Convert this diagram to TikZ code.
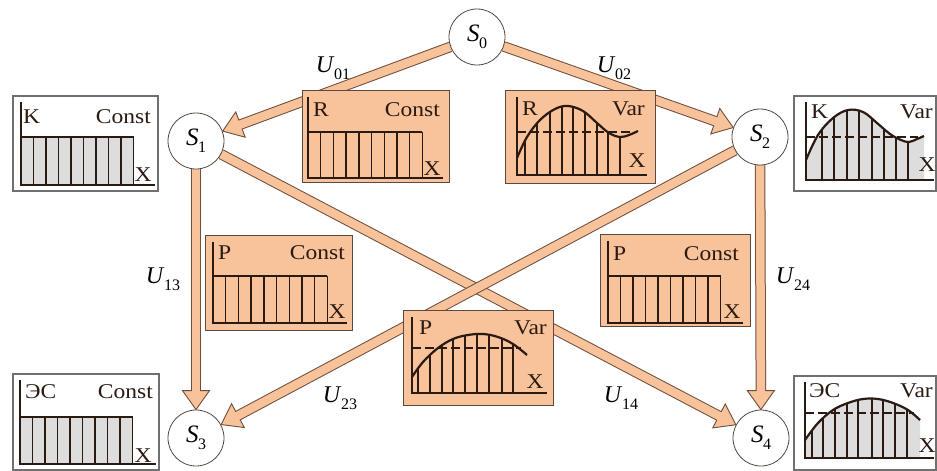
\documentclass[tikz,border=0pt]{standalone}
\usepackage{fontspec}
\setmainfont{Liberation Serif}
\newfontfamily\boxfont{Liberation Serif}[FakeStretch=1.12]
\usetikzlibrary{decorations.markings}
\definecolor{orng}{HTML}{F8C29A}
\definecolor{edgec}{HTML}{6E4E3C}
\definecolor{ink}{HTML}{2B1A12}
\definecolor{boxline}{HTML}{5A4A40}
\definecolor{barg}{HTML}{DDDDDD}
\definecolor{wline}{HTML}{707070}
\pgfdeclarelayer{bg}
\pgfsetlayers{bg,main}
\newcommand\sub[2]{\textit{#1}\kern-0.5pt\raisebox{-0.28em}{\fontsize{16}{16}\selectfont #2}}
\tikzset{
 x=1pt, y=-1pt,
 state/.style={circle, draw=ink!80, line width=0.8pt, fill=white, minimum size=56pt, inner sep=0pt, font=\fontsize{25}{27}\selectfont},
 obox/.style={draw=boxline, line width=0.9pt, fill=orng, anchor=north west, inner sep=0pt},
 wbox/.style={draw=wline, line width=1.6pt, fill=white, anchor=north west, inner sep=0pt},
 lbl/.style={font=\boxfont\fontsize{21}{23}\selectfont, inner sep=0pt, text=ink},
 ulbl/.style={font=\fontsize{24}{26}\selectfont, inner sep=0pt},
 axisl/.style={line width=2.6pt, draw=ink},
 bar/.style={line width=1.4pt, draw=ink},
 dsh/.style={line width=1.2pt, draw=ink, dash pattern=on 9pt off 4pt},
 crv/.style={line width=2.2pt, draw=ink},
}
\newcommand\fatarrow[2]{%
 \draw[line width=10.5pt, edgec, shorten >=16pt] (#1) -- (#2);
 \path[postaction={decorate}, decoration={markings, mark=at position 1 with {\filldraw[fill=orng, draw=edgec, line width=0.9pt] (0pt,0pt) -- (-19pt,13.5pt) -- (-19pt,-13.5pt) -- cycle;}}] (#1) -- (#2);
 \draw[line width=8.5pt, orng, shorten >=16pt] (#1) -- (#2);
}
% #1 ax, #2 axis y, #3 bar top, #4 fill, #5 spacing, #6 axis right
\newcommand\constchart[6]{%
 \fill[#4] (#1,#3) rectangle (#1+9*#5,#2);
 \foreach \k in {1,...,9} \draw[bar] (#1+\k*#5,#3) -- (#1+\k*#5,#2);
 \draw[line width=2pt, ink] (#1,#3) -- (#1+9*#5,#3);
 \draw[axisl] (#1,7) -- (#1,#2) -- (#6,#2);
}
% #1 ax, #2 axis y, #3 curve, #4 end x, #5 fill, #6 xs, #7 dash y, #8 axis right
\newcommand\varchart[8]{%
 \fill[#5] plot[smooth,tension=0.6] coordinates {#3} -- (#4,#2) -- (#1,#2) -- cycle;
 \begin{scope}
 \clip plot[smooth,tension=0.6] coordinates {#3} -- (#4,#2) -- (#1,#2) -- cycle;
 \foreach \xx in {#6} \draw[bar] (\xx,0) -- (\xx,#2);
 \end{scope}
 \draw[dsh] (#1,#7) -- (#4-6,#7);
 \draw[crv] plot[smooth,tension=0.6] coordinates {#3};
 \draw[axisl] (#1,7) -- (#1,#2) -- (#8,#2);
}
\begin{document}
\begin{tikzpicture}
\useasboundingbox (0,0) rectangle (937,471);

% states
\node[state] (S0) at (477,37) {\sub{S}{0}};
\node[state] (S1) at (196,141) {\sub{S}{1}};
\node[state] (S2) at (760,137) {\sub{S}{2}};
\node[state] (S3) at (196,438) {\sub{S}{3}};
\node[state] (S4) at (761,438) {\sub{S}{4}};

% arrows
\begin{pgfonlayer}{bg}
\fill[white] (0,0) rectangle (937,471);
\fatarrow{S0}{S1}
\fatarrow{S0}{S2}
\fatarrow{S1}{S3}
\fatarrow{S2}{S4}
\fatarrow{S1}{S4}
\fatarrow{S2}{S3}
\end{pgfonlayer}

% labels
\node[ulbl] (u01) at (333,68) {\sub{U}{01}};
\node[ulbl] (u02) at (614,68) {\sub{U}{02}};
\node[ulbl] (u13) at (163,279) {\sub{U}{13}};
\node[ulbl] (u24) at (793,279) {\sub{U}{24}};
\node[ulbl] (u23) at (340,398) {\sub{U}{23}};
\node[ulbl] (u14) at (621,398) {\sub{U}{14}};

% 1 K Const
\node[wbox, minimum width=145pt, minimum height=95pt] (kc) at (12,95) {};
\begin{scope}[shift={(kc.north west)}]
\constchart{9}{90}{42}{barg}{12.5}{143}
\node[lbl, anchor=base west] (kc-l) at (11,28) {K};
\node[lbl, anchor=base east] (kc-r) at (139,28) {Const};
\node[lbl, anchor=base] (kc-x) at (131,86) {X};
\end{scope}

% 2 R Const
\node[obox, minimum width=147pt, minimum height=92pt] (rc) at (302,90) {};
\begin{scope}[shift={(rc.north west)}]
\constchart{6}{88}{42}{orng}{12.7}{141}
\node[lbl, anchor=base west] (rc-l) at (11,26) {R};
\node[lbl, anchor=base east] (rc-r) at (138,26) {Const};
\node[lbl, anchor=base] (rc-x) at (130,85) {X};
\end{scope}

% 3 R Var
\node[obox, minimum width=150pt, minimum height=93pt] (rv) at (505,90) {};
\begin{scope}[shift={(rv.north west)}]
\varchart{12}{85}{(12,68) (22,47) (35,30) (50,19) (63,16) (78,21) (92,33) (104,43) (115,47) (124,45) (133,41)}{133}{orng}{20,32,45,57,68,80,92,103,115}{42}{142}
\node[lbl, anchor=base west] (rv-l) at (17,25) {R};
\node[lbl, anchor=base east] (rv-r) at (140,25) {Var};
\node[lbl, anchor=base] (rv-x) at (132,77) {X};
\end{scope}

% 4 K Var
\node[wbox, minimum width=142pt, minimum height=95pt] (kv) at (793,95) {};
\begin{scope}[shift={(kv.north west)}]
\varchart{13}{85}{(13,65) (25,40) (40,23) (55,15) (70,17) (84,28) (97,39) (108,45) (116,47) (124,44) (131,41)}{131}{barg}{29,41,54,66,79,91,103,115}{42}{141}
\node[lbl, anchor=base west] (kv-l) at (18,23) {K};
\node[lbl, anchor=base east] (kv-r) at (140,23) {Var};
\node[lbl, anchor=base] (kv-x) at (134,76) {X};
\end{scope}

% 5 P Const left
\node[obox, minimum width=147pt, minimum height=95pt] (pcl) at (205,235) {};
\begin{scope}[shift={(pcl.north west)}]
\constchart{8}{88}{41}{orng}{12.7}{142}
\node[lbl, anchor=base west] (pcl-l) at (13,24) {P};
\node[lbl, anchor=base east] (pcl-r) at (140,24) {Const};
\node[lbl, anchor=base] (pcl-x) at (132,83) {X};
\end{scope}

% 6 P Var
\node[obox, minimum width=150pt, minimum height=95pt] (pv) at (403,310) {};
\begin{scope}[shift={(pv.north west)}]
\varchart{9}{83}{(9,67) (20,52) (35,38) (50,29) (65,25) (80,24) (95,27) (110,34) (124,45)}{124}{orng}{15,27,39,50,62,74,86,99,110}{38}{144}
\node[lbl, anchor=base west] (pv-l) at (16,24) {P};
\node[lbl, anchor=base east] (pv-r) at (144,24) {Var};
\node[lbl, anchor=base] (pv-x) at (132,78) {X};
\end{scope}

% 7 P Const right
\node[obox, minimum width=150pt, minimum height=92pt] (pcr) at (600,234) {};
\begin{scope}[shift={(pcr.north west)}]
\constchart{8}{89}{42}{orng}{12.5}{143}
\node[lbl, anchor=base west] (pcr-l) at (13,26) {P};
\node[lbl, anchor=base east] (pcr-r) at (139,26) {Const};
\node[lbl, anchor=base] (pcr-x) at (132,84) {X};
\end{scope}

% 8 ES Const
\node[wbox, minimum width=146pt, minimum height=96pt] (ec) at (12,373) {};
\begin{scope}[shift={(ec.north west)}]
\constchart{8}{91}{44}{barg}{12.5}{144}
\node[lbl, anchor=base west] (ec-l) at (13,25) {ЭС};
\node[lbl, anchor=base east] (ec-r) at (141,25) {Const};
\node[lbl, anchor=base] (ec-x) at (131,89) {X};
\end{scope}

% 9 ES Var
\node[wbox, minimum width=142pt, minimum height=94pt] (ev) at (793,375) {};
\begin{scope}[shift={(ev.north west)}]
\varchart{12}{83}{(12,65) (25,48) (40,35) (55,28) (70,24) (85,24) (100,28) (115,35) (127,45)}{127}{barg}{19,30,42,54,65,79,90,102,114}{38}{141}
\node[lbl, anchor=base west] (ev-l) at (16,22) {ЭС};
\node[lbl, anchor=base east] (ev-r) at (140,22) {Var};
\node[lbl, anchor=base] (ev-x) at (134,77) {X};
\end{scope}
\end{tikzpicture}
\end{document}
